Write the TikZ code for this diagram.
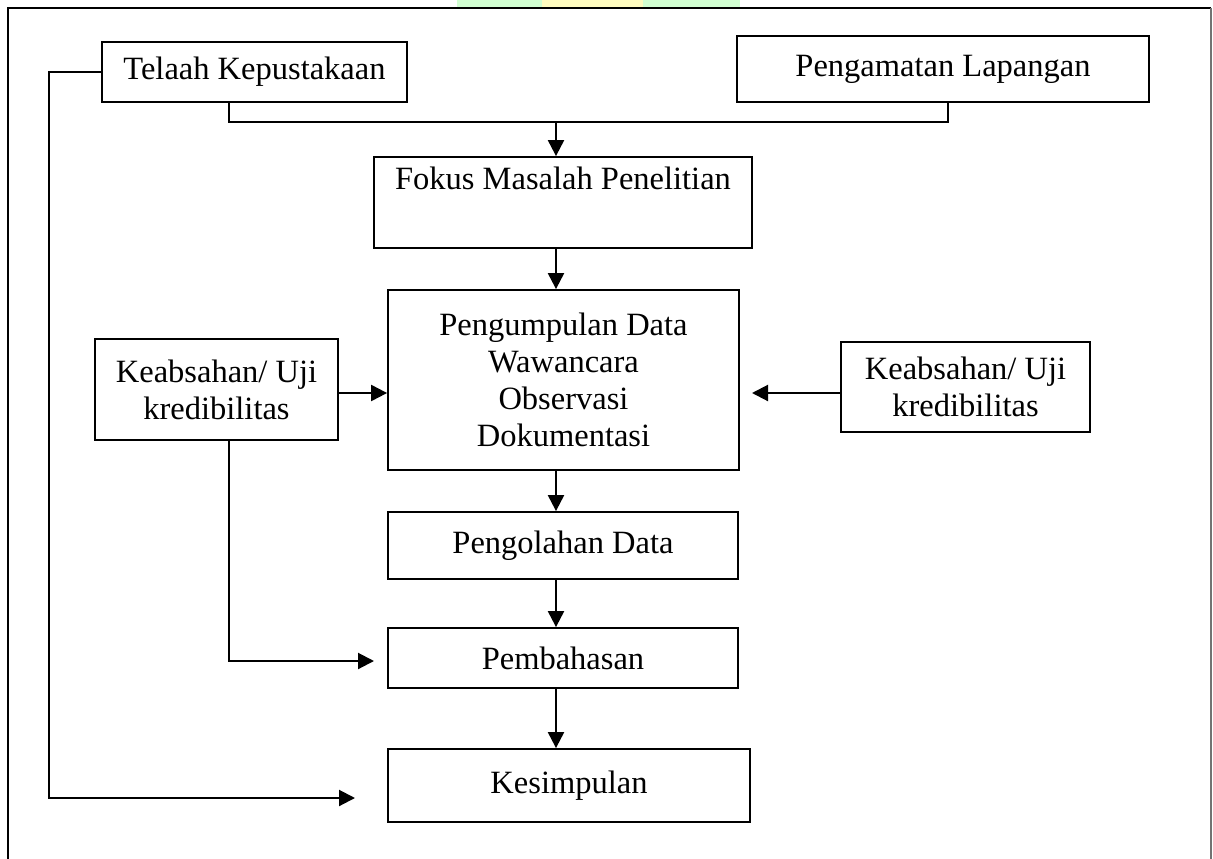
\documentclass[tikz,border=0pt]{standalone}
\usepackage{fontspec}
\setmainfont{Liberation Serif}
\usetikzlibrary{arrows.meta}
\begin{document}
\begin{tikzpicture}[x=1pt,y=-1pt,
  box/.style={draw=black,line width=1.8pt,inner sep=0pt,align=center,
    font=\fontsize{32.5}{37}\selectfont},
  conn/.style={line width=2.1pt},
  arr/.style={line width=2.1pt,-{Triangle[length=16pt,width=16pt]}}]
\useasboundingbox (0,0) rectangle (1213,859);
% watermark fragment
\fill[green!18] (457,0) rectangle (542,8);
\fill[yellow!25] (542,0) rectangle (643,8);
\fill[green!18] (643,0) rectangle (740,8);
% frame
\draw[line width=1.6pt] (8,859) -- (8,8) -- (1211,8);
\draw[line width=1.6pt,black!55] (1211,8) -- (1211,859);
% boxes
\node[box,minimum width=305pt,minimum height=60pt] (tk) at (254.5,72) {Telaah Kepustakaan};
\node[box,minimum width=412pt,minimum height=66pt] (pm) at (943,69) {Pengamatan Lapangan};
\node[box,minimum width=378pt,minimum height=91pt] (fk) at (563,202.5) {Fokus Masalah Penelitian\\ \strut};
\node[box,minimum width=351pt,minimum height=180pt] (pg) at (563.5,380) {Pengumpulan Data\\Wawancara\\Observasi\\Dokumentasi};
\node[box,minimum width=243pt,minimum height=101pt] (lk) at (216.5,389.5) {Keabsahan/ Uji\\kredibilitas};
\node[box,minimum width=249pt,minimum height=90pt] (rk) at (965.5,387) {Keabsahan/ Uji\\kredibilitas};
\node[box,minimum width=350pt,minimum height=67pt] (po) at (563,545.5) {Pengolahan Data};
\node[box,minimum width=350pt,minimum height=60pt] (pb) at (563,658) {Pembahasan};
\node[box,minimum width=362pt,minimum height=73pt] (ks) at (569,785.5) {Kesimpulan};
% helper coordinates
\coordinate (ax) at (556,0);
\coordinate (jn) at (556,122);
\coordinate (ra) at (752,393);
\coordinate (ka) at (355,798);
% top merge
\draw[conn] (tk.south -| 229,0) -- (229,122) -- (948,122) -- (pm.south -| 948,0);
\draw[arr] (jn) -- (ax |- fk.north);
% central chain
\draw[arr] (ax |- fk.south) -- (ax |- pg.north);
\draw[arr] (ax |- pg.south) -- (ax |- po.north);
\draw[arr] (ax |- po.south) -- (ax |- pb.north);
\draw[arr] (ax |- pb.south) -- (ax |- ks.north);
% side arrows
\draw[arr] (lk.east |- 0,393) -- (pg.west |- 0,393);
\draw[arr] (rk.west |- ra) -- (ra);
% left keabsahan to pembahasan
\draw[arr] (lk.south -| 229,0) -- (229,661) -- (374,661);
% telaah to kesimpulan
\draw[arr] (tk.west) -- (49,72) -- (49,798) -- (ka);
\end{tikzpicture}
\end{document}
